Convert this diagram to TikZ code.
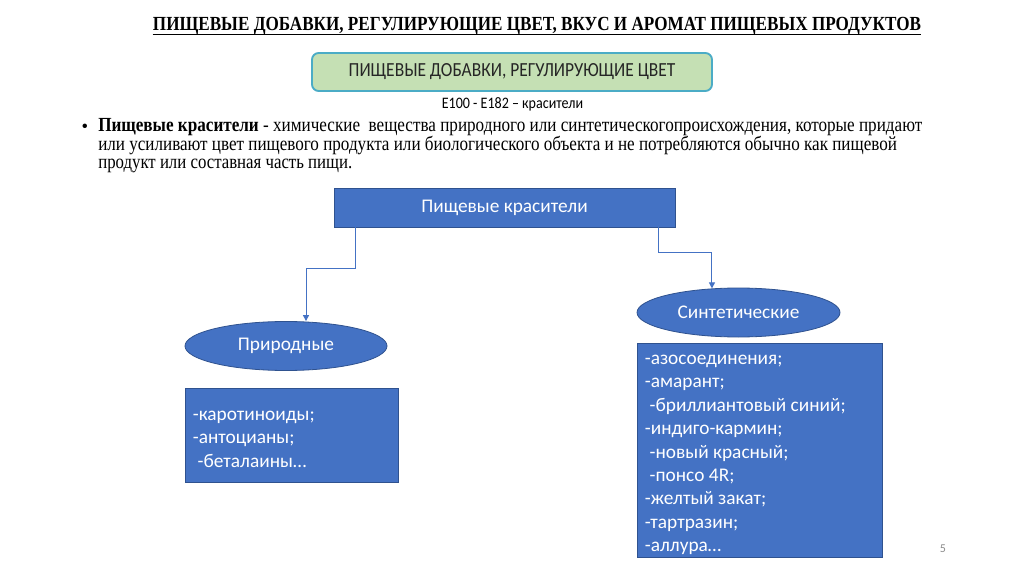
\documentclass[tikz,border=0pt]{standalone}
\usepackage{fontspec}
\usepackage{graphicx}
\setmainfont{Liberation Serif}
\newfontfamily\calfont{Carlito}
\usetikzlibrary{shapes.geometric,arrows.meta,calc}
\definecolor{bluefill}{HTML}{4472C4}
\definecolor{blueline}{HTML}{2F528F}
\definecolor{greenfill}{HTML}{C5E0B4}
\definecolor{greenline}{HTML}{4BACC6}
\definecolor{darktext}{HTML}{262626}
\definecolor{pagegray}{HTML}{8C8C8C}
\tikzset{
  bluebox/.style={draw=blueline, line width=0.6pt, fill=bluefill, text=white,
    font=\calfont\fontsize{14.5}{17.6}\selectfont},
  listtext/.style={text=white, align=left, inner sep=0pt,
    font=\calfont\fontsize{14.5}{17.55}\selectfont},
  blueoval/.style={ellipse, draw=blueline, line width=0.6pt, fill=bluefill, text=white,
    inner sep=0pt, font=\calfont\fontsize{14.5}{17.6}\selectfont},
  greenbox/.style={draw=greenline, line width=1.4pt, fill=greenfill, rounded corners=5pt,
    text=darktext, font=\calfont\fontsize{15}{16}\selectfont},
  conn/.style={draw=bluefill, line width=0.75pt, -{Triangle[width=4.5pt,length=4.5pt]}},
  paraline/.style={anchor=base west, inner sep=0pt, font=\fontsize{15}{16}\selectfont}
}
\begin{document}
\begin{tikzpicture}[x=0.75pt,y=-0.75pt]
\useasboundingbox[fill=white] (0,0) rectangle (1024,574);

% title
\node[anchor=base, inner sep=0pt, font=\bfseries\fontsize{15}{16}\selectfont] (title) at (537,31)
  {\resizebox{576pt}{\height}{ПИЩЕВЫЕ ДОБАВКИ, РЕГУЛИРУЮЩИЕ ЦВЕТ, ВКУС И АРОМАТ ПИЩЕВЫХ ПРОДУКТОВ}};
\draw[line width=1.1pt] ([yshift=-2.8pt]title.base west) -- ([yshift=-2.8pt]title.base east);

% green header box
\node[greenbox, minimum width=300pt, minimum height=28.5pt] (gbox) at (512,72)
  {\resizebox{245pt}{\height}{ПИЩЕВЫЕ ДОБАВКИ, РЕГУЛИРУЮЩИЕ ЦВЕТ}};
\node[font=\calfont\fontsize{12}{14}\selectfont, inner sep=0pt] (codes) at (512.5,104)
  {\resizebox{106pt}{\height}{E100 - E182 – красители}};

% paragraph
\node[inner sep=0pt, font=\fontsize{14}{16}\selectfont] (bullet) at (85,128) {•};
\node[paraline] (p1) at (98,132)
  {\resizebox{618pt}{\height}{\textbf{Пищевые красители} - химические\ \ вещества природного или синтетическогопроисхождения, которые придают}};
\node[paraline] (p2) at (98,150.5)
  {\resizebox{599pt}{\height}{или усиливают цвет пищевого продукта или биологического объекта и не потребляются обычно как пищевой}};
\node[paraline] (p3) at (98,169)
  {\resizebox{190.5pt}{\height}{продукт или составная часть пищи.}};

% diagram
\node[bluebox, minimum width=255.75pt, minimum height=29.25pt] (src) at (504.5,207.5) {Пищевые красители};
\node[blueoval, minimum width=151.5pt, minimum height=36.75pt] (nat) at (286,346) {Природные};
\node[blueoval, minimum width=152.25pt, minimum height=36.75pt] (syn) at (738.5,312.5) {Синтетические};

\node[bluebox, minimum width=159.75pt, minimum height=70.5pt] (natlist) at (291.5,435) {};
\node[listtext, anchor=west] (natlisttext) at ([xshift=6pt,yshift=-3pt]natlist.west)
  {-каротиноиды;\\-антоцианы;\\\hspace{0.25em}-беталаины…};
\node[bluebox, minimum width=183.75pt, minimum height=160.5pt] (synlist) at (759.5,450) {};
\node[listtext, anchor=west] (synlisttext) at ([xshift=6pt,yshift=-3.75pt]synlist.west)
  {-азосоединения;\\-амарант;\\\hspace{0.25em}-бриллиантовый синий;\\-индиго-кармин;\\\hspace{0.25em}-новый красный;\\\hspace{0.25em}-понсо 4R;\\-желтый закат;\\-тартразин;\\-аллура…};

\draw[conn] ([xshift=16.5pt]src.south west) -- ++(0,41) -| ([xshift=15pt]nat.north);
\draw[conn] ([xshift=-12.75pt]src.south east) -- ++(0,25) -| ([xshift=-19.9pt,yshift=-0.6pt]syn.north);

% page number
\node[font=\calfont\fontsize{9}{10}\selectfont, text=pagegray, inner sep=0pt] (pnum) at (943,549) {5};
\end{tikzpicture}
\end{document}
